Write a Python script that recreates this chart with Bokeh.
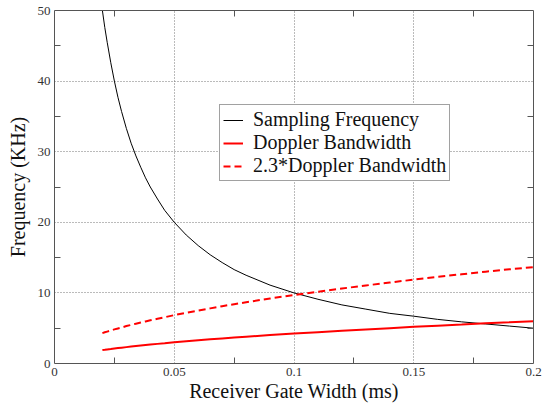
from bokeh.plotting import figure
from bokeh.models import (LinearAxis, FixedTicker, Range1d, Legend, LegendItem)
from bokeh.embed import file_html
from bokeh.resources import INLINE

# ---- data ----
gate_width_ms = [0.02, 0.021, 0.022, 0.0235, 0.025, 0.0265, 0.028, 0.03, 0.032,
                 0.034, 0.036, 0.038, 0.04, 0.043, 0.046, 0.05, 0.055,
                 0.06, 0.065, 0.07, 0.075, 0.08, 0.09, 0.1, 0.11, 0.12, 0.13,
                 0.14, 0.15, 0.16, 0.17, 0.18, 0.19, 0.2]
sampling_freq = [50, 47.6, 45.5, 42.6, 40, 37.7, 35.7, 33.3, 31.2,
                 29.4, 27.8, 26.3, 25, 23.3, 21.7, 20, 18.2,
                 16.7, 15.4, 14.3, 13.3, 12.5, 11.1, 10, 9.1, 8.3, 7.7,
                 7.1, 6.7, 6.25, 5.9, 5.6, 5.3, 5.0]
doppler_bw = [1.90, 1.94, 1.99, 2.05, 2.12, 2.18, 2.24, 2.32, 2.40,
              2.47, 2.54, 2.61, 2.68, 2.78, 2.87, 3.0, 3.14,
              3.28, 3.42, 3.55, 3.67, 3.79, 4.02, 4.24, 4.44, 4.64, 4.83,
              5.01, 5.19, 5.36, 5.52, 5.69, 5.84, 6.0]
doppler_bw_23 = [4.30, 4.42, 4.52, 4.67, 4.83, 4.97, 5.10, 5.30, 5.47,
                 5.64, 5.80, 5.96, 6.12, 6.34, 6.55, 6.85, 7.18,
                 7.50, 7.81, 8.12, 8.40, 8.68, 9.21, 9.70, 10.17, 10.62, 11.05,
                 11.47, 11.88, 12.27, 12.64, 13.00, 13.35, 13.65]

x_ticks = [0, 0.05, 0.1, 0.15, 0.2]
x_tick_labels = ["0", "0.05", "0.1", "0.15", "0.2"]
x_minor = [0.025, 0.075, 0.125, 0.175]
y_ticks = [0, 10, 20, 30, 40, 50]
y_minor = [5, 15, 25, 35, 45]

series_names = ["Sampling Frequency", "Doppler Bandwidth", "2.3*Doppler Bandwidth"]

SERIF = "Times New Roman"
AXIS_COLOR = "#555555"

p = figure(width=548, height=404, output_backend="svg", toolbar_location=None,
           x_range=Range1d(0, 0.2), y_range=Range1d(0, 50),
           min_border_left=54, min_border_right=15, min_border_top=10,
           min_border_bottom=37, x_axis_label="Receiver Gate Width (ms)",
           y_axis_label="Frequency (KHz)")
p.outline_line_color = None
p.background_fill_color = "white"
p.border_fill_color = "white"

xt = FixedTicker(ticks=x_ticks, minor_ticks=x_minor)
yt = FixedTicker(ticks=y_ticks, minor_ticks=y_minor)

p.xaxis.ticker = xt
p.yaxis.ticker = yt
p.xaxis.major_label_overrides = {t: s for t, s in zip(x_ticks, x_tick_labels)}

for ax in [p.xaxis[0], p.yaxis[0]]:
    ax.axis_line_color = AXIS_COLOR
    ax.major_tick_in = 0
    ax.major_tick_out = 0
    ax.minor_tick_in = 6
    ax.minor_tick_out = 0
    ax.minor_tick_line_color = AXIS_COLOR
    ax.major_label_text_font = SERIF
    ax.major_label_text_font_size = "13px"
    ax.major_label_text_color = "#333333"
    ax.major_label_standoff = 4
    ax.axis_label_text_font = SERIF
    ax.axis_label_text_font_size = "20px"
    ax.axis_label_text_font_style = "normal"
    ax.axis_label_text_color = "#111111"
    ax.axis_label_standoff = 1

p.yaxis.axis_label_standoff = 6

# mirrored axes (ticks only)
top = LinearAxis(ticker=FixedTicker(ticks=x_ticks, minor_ticks=x_minor))
right = LinearAxis(ticker=FixedTicker(ticks=y_ticks, minor_ticks=y_minor))
for ax in [top, right]:
    ax.axis_line_color = AXIS_COLOR
    ax.major_tick_in = 0
    ax.major_tick_out = 0
    ax.minor_tick_in = 6
    ax.minor_tick_out = 0
    ax.minor_tick_line_color = AXIS_COLOR
    ax.major_label_text_color = None
    ax.major_label_text_font_size = "1px"
    ax.major_label_standoff = 0
p.add_layout(top, "above")
p.add_layout(right, "right")

p.xgrid.ticker = FixedTicker(ticks=[0.05, 0.1, 0.15])
p.ygrid.ticker = FixedTicker(ticks=[10, 20, 30, 40])
p.grid.grid_line_color = "#777777"
p.grid.grid_line_dash = "1 2"
p.grid.grid_line_width = 1

r1 = p.line(gate_width_ms, sampling_freq, line_color="black", line_width=1)
r2 = p.line(gate_width_ms, doppler_bw, line_color="#ff0000", line_width=2)
r3 = p.line(gate_width_ms, doppler_bw_23, line_color="#ff0000", line_width=2,
            line_dash="7 4")

legend = Legend(items=[LegendItem(label=series_names[0], renderers=[r1]),
                       LegendItem(label=series_names[1], renderers=[r2]),
                       LegendItem(label=series_names[2], renderers=[r3])],
                location=(165, 182), margin=0, padding=3, spacing=0,
                glyph_width=20, glyph_height=20, label_height=20,
                label_standoff=10, label_text_font=SERIF,
                label_text_font_size="20px", label_text_color="#111111",
                border_line_color="#444444", border_line_width=1,
                background_fill_color="white", background_fill_alpha=1)
p.add_layout(legend, "center")

open("out.html", "w").write(file_html(p, INLINE))
